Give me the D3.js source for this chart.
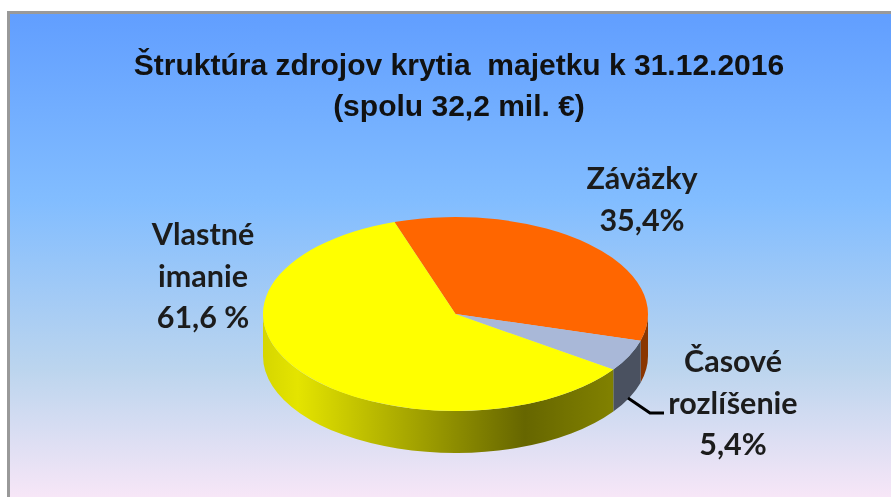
<!DOCTYPE html>
<html lang="sk">
<head>
<meta charset="utf-8">
<script src="https://cdn.jsdelivr.net/npm/d3@7"></script>
<style>
  html, body { margin: 0; padding: 0; background: #fff; overflow: hidden; }
  svg { display: block; filter: blur(0.5px); }
  .title { font-family: "Liberation Sans", sans-serif; font-weight: 700; font-size: 30px; fill: #111; }
  .lbl { font-family: Lato, sans-serif; font-weight: 700; font-size: 30.5px; fill: #1c1c1c; }
</style>
</head>
<body>
<div id="chart"></div>
<script>
const titleLines = ["Štruktúra zdrojov krytia  majetku k 31.12.2016", "(spolu 32,2 mil. €)"];
const categories = ["Záväzky", "Časové rozlíšenie", "Vlastné imanie"];
const values = [35.4, 5.4, 61.6];
const labelLines = [["Záväzky", "35,4%"], ["Časové", "rozlíšenie", "5,4%"], ["Vlastné", "imanie", "61,6 %"]];
const topColors = ["#ff6600", "#a9b8d8", "#ffff00"];
const sideColors = ["#8a3600", "#4a5160", "url(#yellowSide)"];

const width = 891, height = 497;
const cx = 455.5, cy = 314, rx = 192.5, ry = 97, depth = 42;
const rad = (deg) => deg * Math.PI / 180;

const svg = d3.select("#chart").append("svg").attr("width", width).attr("height", height);
const defs = svg.append("defs");

const bg = defs.append("linearGradient").attr("id", "bg").attr("x1", 0).attr("x2", 0).attr("y1", 0).attr("y2", 1);
bg.append("stop").attr("offset", "0%").attr("stop-color", "#619eff");
bg.append("stop").attr("offset", "38%").attr("stop-color", "#82bdff");
bg.append("stop").attr("offset", "72%").attr("stop-color", "#bcd5ee");
bg.append("stop").attr("offset", "100%").attr("stop-color", "#fde8f8");

const ys = defs.append("linearGradient").attr("id", "yellowSide").attr("gradientUnits", "userSpaceOnUse")
  .attr("x1", cx - rx).attr("x2", cx + rx).attr("y1", 0).attr("y2", 0);
ys.append("stop").attr("offset", "0%").attr("stop-color", "#d6d600");
ys.append("stop").attr("offset", "9%").attr("stop-color", "#e4e400");
ys.append("stop").attr("offset", "68%").attr("stop-color", "#666600");
ys.append("stop").attr("offset", "90%").attr("stop-color", "#808000");

svg.append("rect").attr("x", 8.5).attr("y", 12.5).attr("width", width).attr("height", height)
  .attr("fill", "url(#bg)").attr("stroke", "#999").attr("stroke-width", 3);

const pie = d3.pie().sort(null).startAngle(rad(-18.5)).endAngle(rad(341.5))(values);
const arc = d3.arc().innerRadius(0).outerRadius(rx);

const edge = (deg) => [cx + rx * Math.sin(rad(deg)), cy - ry * Math.cos(rad(deg))];

// side wall, only the front half (90..270 deg clockwise from north) can be seen
const wall = (a0, a1) => {
  const [x0, y0] = edge(a0), [x1, y1] = edge(a1);
  return `M${x0},${y0}A${rx},${ry} 0 0 1 ${x1},${y1}L${x1},${y1 + depth}A${rx},${ry} 0 0 0 ${x0},${y0 + depth}Z`;
};

svg.append("g").selectAll("path").data(pie).join("path")
  .attr("d", (d) => {
    const a0 = Math.max(90, d.startAngle * 180 / Math.PI);
    const a1 = Math.min(270, d.endAngle * 180 / Math.PI);
    return a1 > a0 ? wall(a0, a1) : null;
  })
  .attr("fill", (d, i) => sideColors[i]);

svg.append("g").attr("transform", `translate(${cx},${cy}) scale(1,${ry / rx})`)
  .selectAll("path").data(pie).join("path")
  .attr("d", arc)
  .attr("data-category", (d, i) => categories[i])
  .attr("fill", (d, i) => topColors[i]);

svg.append("path").attr("d", "M628,398L650,413L664,413")
  .attr("fill", "none").attr("stroke", "#000").attr("stroke-width", 3);

svg.selectAll("text.title").data(titleLines).join("text").attr("class", "title")
  .attr("x", 459).attr("y", (d, i) => 75 + i * 41).attr("text-anchor", "middle")
  .style("white-space", "pre").text((d) => d);

const labelPos = [[642, 189], [733, 372], [203, 245]];
labelLines.forEach((lines, k) => {
  lines.forEach((t, i) => {
    svg.append("text").attr("class", "lbl").attr("text-anchor", "middle")
      .attr("x", labelPos[k][0]).attr("y", labelPos[k][1] + i * 41.5).text(t);
  });
});
</script>
</body>
</html>
